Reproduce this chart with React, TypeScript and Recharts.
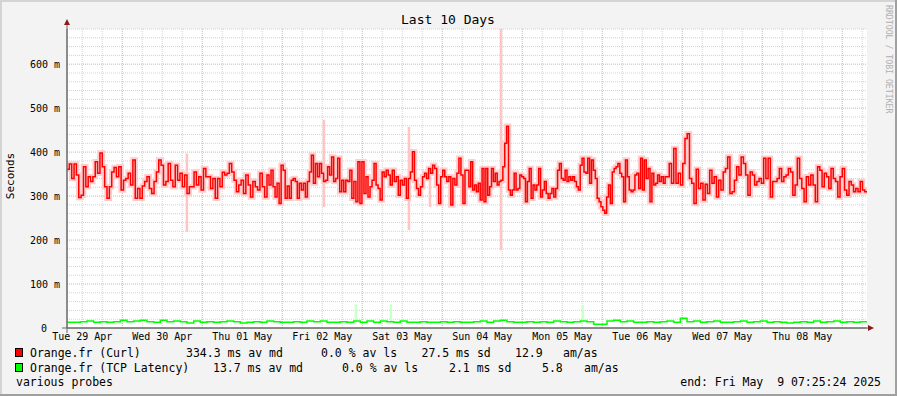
import { ComposedChart, Line, XAxis, YAxis, ReferenceLine, CartesianGrid } from "recharts"

const MONO = "'DejaVu Sans Mono', monospace"

// hours after Tue 29 Apr 00:00, graph end Fri May 9 07:25:24
const START = 7.4233
const END = 247.4233

const dayLabels = ["Tue 29 Apr", "Wed 30 Apr", "Thu 01 May", "Fri 02 May", "Sat 03 May", "Sun 04 May", "Mon 05 May", "Tue 06 May", "Wed 07 May", "Thu 08 May"]
const dayLabelHours = [12, 36, 60, 84, 108, 132, 156, 180, 204, 228]
const yTicks = [0, 100, 200, 300, 400, 500, 600]

// Curl median (ms), four 60-hour stretches
const curlPart1 = [361, 373, 340, 373, 348, 297, 302, 367, 321, 344, 333, 344, 378, 352, 398, 367, 321, 295, 321, 355, 365, 344, 367, 314, 336, 340, 352, 325, 382, 295, 317, 295, 323, 333, 344, 317, 306, 333, 355, 382, 370, 325, 333, 374, 336, 321, 370, 336, 352, 321, 348, 306, 321, 321, 355, 325, 344, 314, 363, 344, 344, 317, 340, 295, 340, 321, 354, 348, 352, 374, 355, 336, 310, 325, 336, 306, 348, 325, 298, 333, 321, 314, 352, 321, 298]
const curlPart2 = [348, 325, 359, 321, 298, 329, 283, 370, 359, 295, 323, 295, 336, 340, 333, 295, 329, 314, 329, 298, 333, 355, 393, 329, 374, 344, 374, 352, 333, 336, 367, 348, 389, 333, 340, 386, 310, 336, 310, 336, 333, 359, 295, 333, 287, 378, 283, 378, 306, 344, 298, 321, 336, 374, 325, 317, 291, 355, 344, 359, 348, 325, 359, 333, 344, 302, 336, 325, 340, 295, 340, 355, 401, 336, 317, 302, 321, 344, 352, 340, 363, 352, 370, 363, 325, 283, 344, 359, 344, 333, 344, 280, 340, 325, 352, 386, 348, 283, 359]
const curlPart3 = [359, 321, 378, 314, 325, 310, 329, 291, 363, 287, 363, 302, 321, 363, 333, 352, 325, 333, 336, 367, 420, 459, 314, 302, 314, 352, 314, 317, 348, 344, 340, 287, 333, 363, 295, 325, 314, 325, 363, 298, 314, 333, 306, 295, 306, 317, 298, 317, 359, 374, 340, 336, 359, 333, 344, 336, 344, 333, 321, 314, 370, 386, 355, 352, 386, 329, 382, 359, 340, 295, 287, 276, 268, 261, 298, 325, 283, 355, 363, 367, 374, 352, 344, 287, 382, 344, 314, 310, 314, 348, 352, 317, 386, 314, 382, 340, 363, 287, 352, 325, 329, 348, 333, 344, 329, 344]
const curlPart4 = [344, 374, 329, 408, 329, 352, 325, 374, 431, 442, 340, 329, 283, 361, 317, 329, 291, 327, 306, 359, 329, 344, 298, 336, 314, 355, 363, 389, 306, 310, 336, 367, 348, 389, 374, 348, 302, 355, 348, 325, 333, 340, 329, 386, 340, 386, 298, 333, 333, 340, 363, 333, 344, 348, 363, 355, 302, 325, 386, 340, 317, 287, 344, 325, 348, 325, 287, 367, 359, 321, 352, 344, 317, 363, 340, 333, 298, 344, 363, 314, 302, 333, 325, 310, 317, 310, 333, 314, 310]

// TCP latency median (ms), one value every 2 hours
const tcpLatency = [12.9, 12.9, 14.4, 15.9, 12.9, 14.4, 12.9, 14.4, 17.4, 14.4, 15.9, 17.4, 14.4, 12.9, 17.4, 14.4, 15.9, 14.4, 11.4, 15.9, 12.9, 14.4, 12.9, 14.4, 15.9, 14.4, 11.4, 12.9, 14.4, 12.9, 15.9, 14.4, 12.9, 12.9, 14.4, 12.9, 15.9, 14.4, 15.9, 12.9, 12.9, 14.4, 12.9, 15.9, 12.9, 15.9, 12.9, 15.9, 14.4, 12.9, 15.9, 12.9, 12.9, 14.4, 12.9, 12.9, 14.4, 12.9, 14.4, 12.9,
  12.9, 14.4, 15.9, 12.9, 15.9, 17.4, 14.4, 12.9, 12.9, 14.4, 12.9, 14.4, 12.9, 15.9, 14.4, 12.9, 14.4, 15.9, 14.4, 8.3, 8.3, 15.9, 17.4, 14.4, 15.9, 12.9, 12.9, 14.4, 12.9, 14.4, 15.9, 12.9, 21.9, 14.4, 15.9, 12.9, 14.4, 15.9, 12.9, 12.9, 14.4, 15.9, 12.9, 14.4, 15.9, 12.9, 14.4, 12.9, 11.4, 12.9, 14.4, 12.9, 15.9, 12.9, 14.4, 15.9, 12.9, 14.4, 12.9, 14.4]

// smoke extremes that reach well past the median
const curlSmokeHours = [43.4, 84.5, 110.0, 116.3, 137.6]
const curlSmokeLow = [219, 275, 223, 275, 177]
const curlSmokeHigh = [397, 473, 457, 345, 680]
const tcpSmokeHours = [94.1, 104.6, 162.2]
const tcpSmokeLow = [13, 13, 13]
const tcpSmokeHigh = [54, 54, 52]

const curlData: { t: number; v: number }[] = []
;[curlPart1, curlPart2, curlPart3, curlPart4].forEach((part, k) => {
  part.forEach((v, i) => curlData.push({ t: START + 60 * k + (60 * i) / part.length, v }))
})
curlData.push({ t: END, v: curlPart4[curlPart4.length - 1] })

const tcpData = tcpLatency.map((v, i) => ({ t: START + i * 2, v }))
tcpData.push({ t: END, v: tcpLatency[tcpLatency.length - 1] })

const spikes = (hours: number[], lo: number[], hi: number[]) =>
  hours.flatMap((t, i) => [{ t, v: lo[i] }, { t, v: hi[i] }, { t, v: null }])
const curlSmoke = spikes(curlSmokeHours, curlSmokeLow, curlSmokeHigh)
const tcpSmoke = spikes(tcpSmokeHours, tcpSmokeLow, tcpSmokeHigh)

const minorY: number[] = []
for (let v = 20; v <= 680; v += 20) if (v % 100 !== 0) minorY.push(v)
const majorY = [100, 200, 300, 400, 500, 600]
const minorX: number[] = []
const majorX: number[] = []
for (let h = 12; h < END; h += 6) (h % 24 === 0 ? majorX : minorX).push(h)

const legendRows = [
  { color: "#ff0000", y: 353, cols: [[30, "Orange.fr (Curl)"], [186, "334.3 ms av md"], [321, "0.0 % av ls"], [421.5, "27.5 ms sd"], [515, "12.9"], [563, "am/as"]] },
  { color: "#00ff00", y: 368, cols: [[30, "Orange.fr (TCP Latency)"], [213, "13.7 ms av md"], [342, "0.0 % av ls"], [449, "2.1 ms sd"], [542, "5.8"], [584, "am/as"]] },
]

// rrdtool pads the bare "0" label, so it sits further left than "600 m"
const YTick = (props: any) => {
  const { x, y, payload } = props
  const v = payload.value as number
  return (
    <text x={v === 0 ? x - 13 : x} y={y} textAnchor="end" dominantBaseline="central" fontFamily={MONO} fontSize={10} fill="#000">
      {v === 0 ? "0" : `${v} m`}
    </text>
  )
}

export default function App() {
  return (
    <div style={{ position: "absolute", left: 0, top: 0, width: 897, height: 396, background: "#f3f3f3" }}>
      <ComposedChart width={897} height={396} margin={{ top: 29, right: 30, bottom: 48, left: 7 }}>
        <CartesianGrid horizontal={false} vertical={false} fill="#ffffff" />
        {minorY.map((v) => <ReferenceLine key={"my" + v} y={v} stroke="#d2d2d2" strokeDasharray="1 1" />)}
        {minorX.map((h) => <ReferenceLine key={"mx" + h} x={h} stroke="#d2d2d2" strokeDasharray="1 1" />)}
        {majorY.map((v) => <ReferenceLine key={"Y" + v} y={v} stroke="#eaa8a8" strokeDasharray="1 1" />)}
        {majorX.map((h) => <ReferenceLine key={"X" + h} x={h} stroke="#eaa8a8" strokeDasharray="1 1" />)}
        <XAxis
          dataKey="t"
          type="number"
          domain={[START, END]}
          allowDataOverflow
          ticks={dayLabelHours}
          interval={0}
          height={20}
          tickLine={false}
          tickSize={0}
          tickMargin={5}
          axisLine={{ stroke: "#666666" }}
          tick={{ fontFamily: MONO, fontSize: 10, fill: "#000" }}
          tickFormatter={(h: number) => dayLabels[dayLabelHours.indexOf(h)] ?? ""}
        />
        <YAxis
          type="number"
          domain={[0, 680]}
          allowDataOverflow
          ticks={yTicks}
          interval={0}
          width={60}
          tickLine={false}
          tickSize={0}
          tickMargin={7}
          axisLine={{ stroke: "#666666" }}
          tick={<YTick />}
        />
        <Line data={curlData} dataKey="v" type="stepAfter" stroke="#ffcdcd" strokeWidth={5.5} dot={false} activeDot={false} isAnimationActive={false} />
        <Line data={curlSmoke} dataKey="v" type="linear" stroke="#ffc4c4" strokeWidth={2.5} dot={false} activeDot={false} connectNulls={false} isAnimationActive={false} />
        <Line data={tcpSmoke} dataKey="v" type="linear" stroke="#ccffcc" strokeWidth={2.5} dot={false} activeDot={false} connectNulls={false} isAnimationActive={false} />
        <Line data={tcpData} dataKey="v" type="stepAfter" stroke="#00ff00" strokeWidth={1.5} dot={false} activeDot={false} isAnimationActive={false} />
        <Line data={curlData} dataKey="v" type="stepAfter" stroke="#ff0000" strokeWidth={1.5} dot={false} activeDot={false} isAnimationActive={false} />
      </ComposedChart>
      <svg width={897} height={396} style={{ position: "absolute", left: 0, top: 0, pointerEvents: "none" }}>
        <line x1={0} y1={1} x2={897} y2={1} stroke="#d4d4d4" strokeWidth={2} />
        <line x1={1} y1={0} x2={1} y2={396} stroke="#d4d4d4" strokeWidth={2} />
        <line x1={0} y1={395} x2={897} y2={395} stroke="#a0a0a0" strokeWidth={2} />
        <line x1={896} y1={0} x2={896} y2={396} stroke="#a0a0a0" strokeWidth={2} />
        <line x1={67} y1={22} x2={67} y2={333} stroke="#666666" />
        <line x1={62} y1={328} x2={870} y2={328} stroke="#666666" />
        <polygon points="64,25 70,25 67,19" fill="#8b1a1a" />
        <polygon points="868,325 868,331 874,328" fill="#8b1a1a" />
        <text x={448} y={19} textAnchor="middle" dominantBaseline="central" fontFamily={MONO} fontSize={13} fill="#000">Last 10 Days</text>
        <text x={10} y={176} textAnchor="middle" dominantBaseline="central" fontFamily={MONO} fontSize={11} fill="#000" transform="rotate(-90 10 176)">Seconds</text>
        <text x={889} y={5} dominantBaseline="central" fontFamily={MONO} fontSize={8.2} fill="#b0b0b0" transform="rotate(90 889 5)">RRDTOOL / TOBI OETIKER</text>
        {legendRows.map((r) => (
          <g key={r.y}>
            <rect x={15.5} y={r.y - 4.5} width={7} height={8} fill={r.color} stroke="#000" />
            {r.cols.map(([x, s]) => (
              <text key={String(x)} x={x as number} y={r.y} dominantBaseline="central" fontFamily={MONO} fontSize={11.5} fill="#000">{s}</text>
            ))}
          </g>
        ))}
        <text x={16} y={382} dominantBaseline="central" fontFamily={MONO} fontSize={11.5} fill="#000">various probes</text>
        <text x={881} y={382} textAnchor="end" dominantBaseline="central" fontFamily={MONO} fontSize={11.5} fill="#000" style={{ whiteSpace: "pre" }}>{"end: Fri May  9 07:25:24 2025"}</text>
      </svg>
    </div>
  )
}
